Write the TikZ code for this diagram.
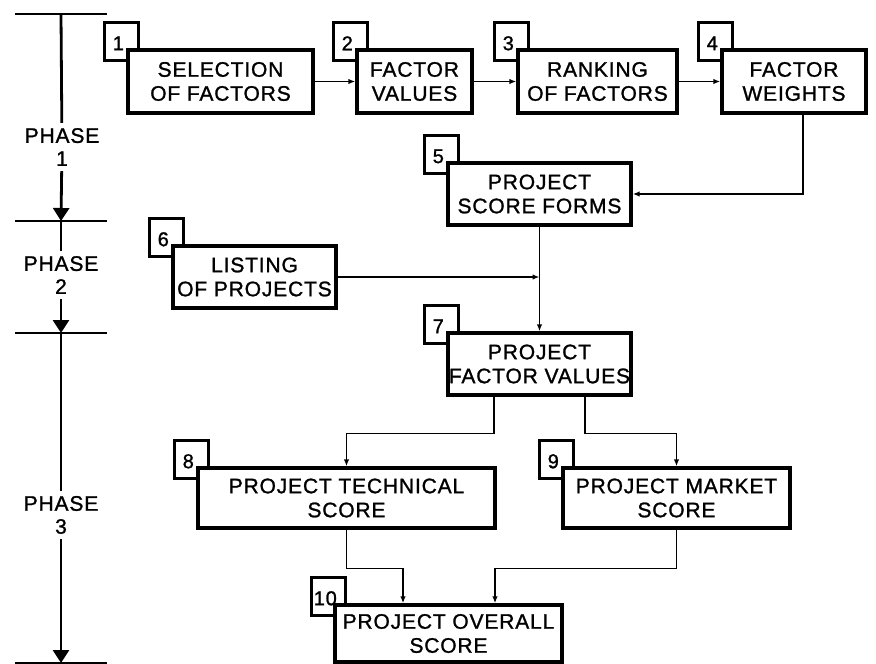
\documentclass[tikz,border=0pt]{standalone}
\usepackage{fontspec}
\setmainfont{Liberation Sans}[LetterSpace=4,FakeBold=1.2]
\usetikzlibrary{arrows.meta}
\pgfdeclarelayer{back}
\pgfsetlayers{back,main}
\begin{document}
\begin{tikzpicture}[x=1pt,y=-1pt,
  box/.style={draw,line width=3.4pt,fill=white,inner sep=0pt,align=center,
    font=\fontsize{21}{24}\selectfont},
  tag/.style={draw,line width=3.2pt,fill=white,minimum width=34pt,minimum height=38pt,inner sep=0pt},
  tagnum/.style={inner sep=0pt,font=\fontsize{20}{20}\selectfont},
  link/.style={line width=1.5pt,-{Latex[length=7pt,width=5.5pt]}},
  axis/.style={line width=2.8pt},
  tick/.style={line width=2pt},
  axisarrow/.style={axis,-{Triangle[length=13pt,width=16pt]}},
  phase/.style={inner sep=5pt,align=center,font=\fontsize{21}{23}\selectfont}
]
\useasboundingbox (0,0) rectangle (876,664);

% ---- process boxes ----
\node[box,minimum width=185pt,minimum height=63pt] (b1) at (220.5,81.5) {SELECTION\\OF FACTORS};
\node[box,minimum width=115pt,minimum height=63pt] (b2) at (414.5,81.5) {FACTOR\\VALUES};
\node[box,minimum width=159pt,minimum height=63pt] (b3) at (597.5,81.5) {RANKING\\OF FACTORS};
\node[box,minimum width=144pt,minimum height=63pt] (b4) at (794,81.5) {FACTOR\\WEIGHTS};
\node[box,minimum width=183pt,minimum height=62pt] (b5) at (539.5,194) {PROJECT\\SCORE FORMS};
\node[box,minimum width=163pt,minimum height=62pt] (b6) at (254.5,277) {LISTING\\OF PROJECTS};
\node[box,minimum width=183pt,minimum height=62pt] (b7) at (539.5,364) {PROJECT\\FACTOR VALUES};
\node[box,minimum width=297pt,minimum height=60pt] (b8) at (346.5,498) {PROJECT TECHNICAL\\SCORE};
\node[box,minimum width=227pt,minimum height=60pt] (b9) at (676.5,498) {PROJECT MARKET\\SCORE};
\node[box,minimum width=227pt,minimum height=57pt] (b10) at (448.5,633.5) {PROJECT OVERALL\\SCORE};

% ---- numbered tags behind the upper-left corner of each box ----
\begin{pgfonlayer}{back}
\foreach \i in {1,...,10}
  \node[tag] (n\i) at ([shift={(-5,-7)}]b\i.north west) {};
\end{pgfonlayer}
\foreach \i in {1,...,10}
  \node[tagnum] (d\i) at ([shift={(-3,2)}]n\i.center) {\i};

% ---- connectors ----
\draw[link] (b1) -- (b2);
\draw[link] (b2) -- (b3);
\draw[link] (b3) -- (b4);
\draw[link] ([xshift=9pt]b4.south) |- (b5.east);
\draw[link] (b5) -- (b7);
\coordinate (j6) at (b5.south |- b6.east);
\draw[link] (b6.east) -- (j6);
\draw[link] ([xshift=-45.5pt]b7.south) -- ++(0,37) -| (b8.north);
\draw[link] ([xshift=45.5pt]b7.south) -- ++(0,37) -| (b9.north);
\draw[link] (b8.south) -- ++(0,39) -| ([xshift=-45.5pt]b10.north);
\draw[link] (b9.south) -- ++(0,39) -| ([xshift=46.5pt]b10.north);

% ---- phase axis ----
\coordinate (t0) at (61,14);
\coordinate (t1) at (61,221);
\coordinate (t2) at (61,333);
\coordinate (t3) at (61,663);
\foreach \t in {t0,t1,t2,t3}
  \draw[tick] ([xshift=-46pt]\t) -- ([xshift=46pt]\t);
\node[phase] (p1) at (62,147) {PHASE\\1};
\node[phase] (p2) at (61,275) {PHASE\\2};
\node[phase] (p3) at (61,515) {PHASE\\3};
\draw[axis] (t0) -- (p1);
\draw[axisarrow] (p1) -- (t1);
\draw[axis] (t1) -- (p2);
\draw[axisarrow] (p2) -- (t2);
\draw[axis] (t2) -- (p3);
\draw[axisarrow] (p3) -- (t3);
\end{tikzpicture}
\end{document}
